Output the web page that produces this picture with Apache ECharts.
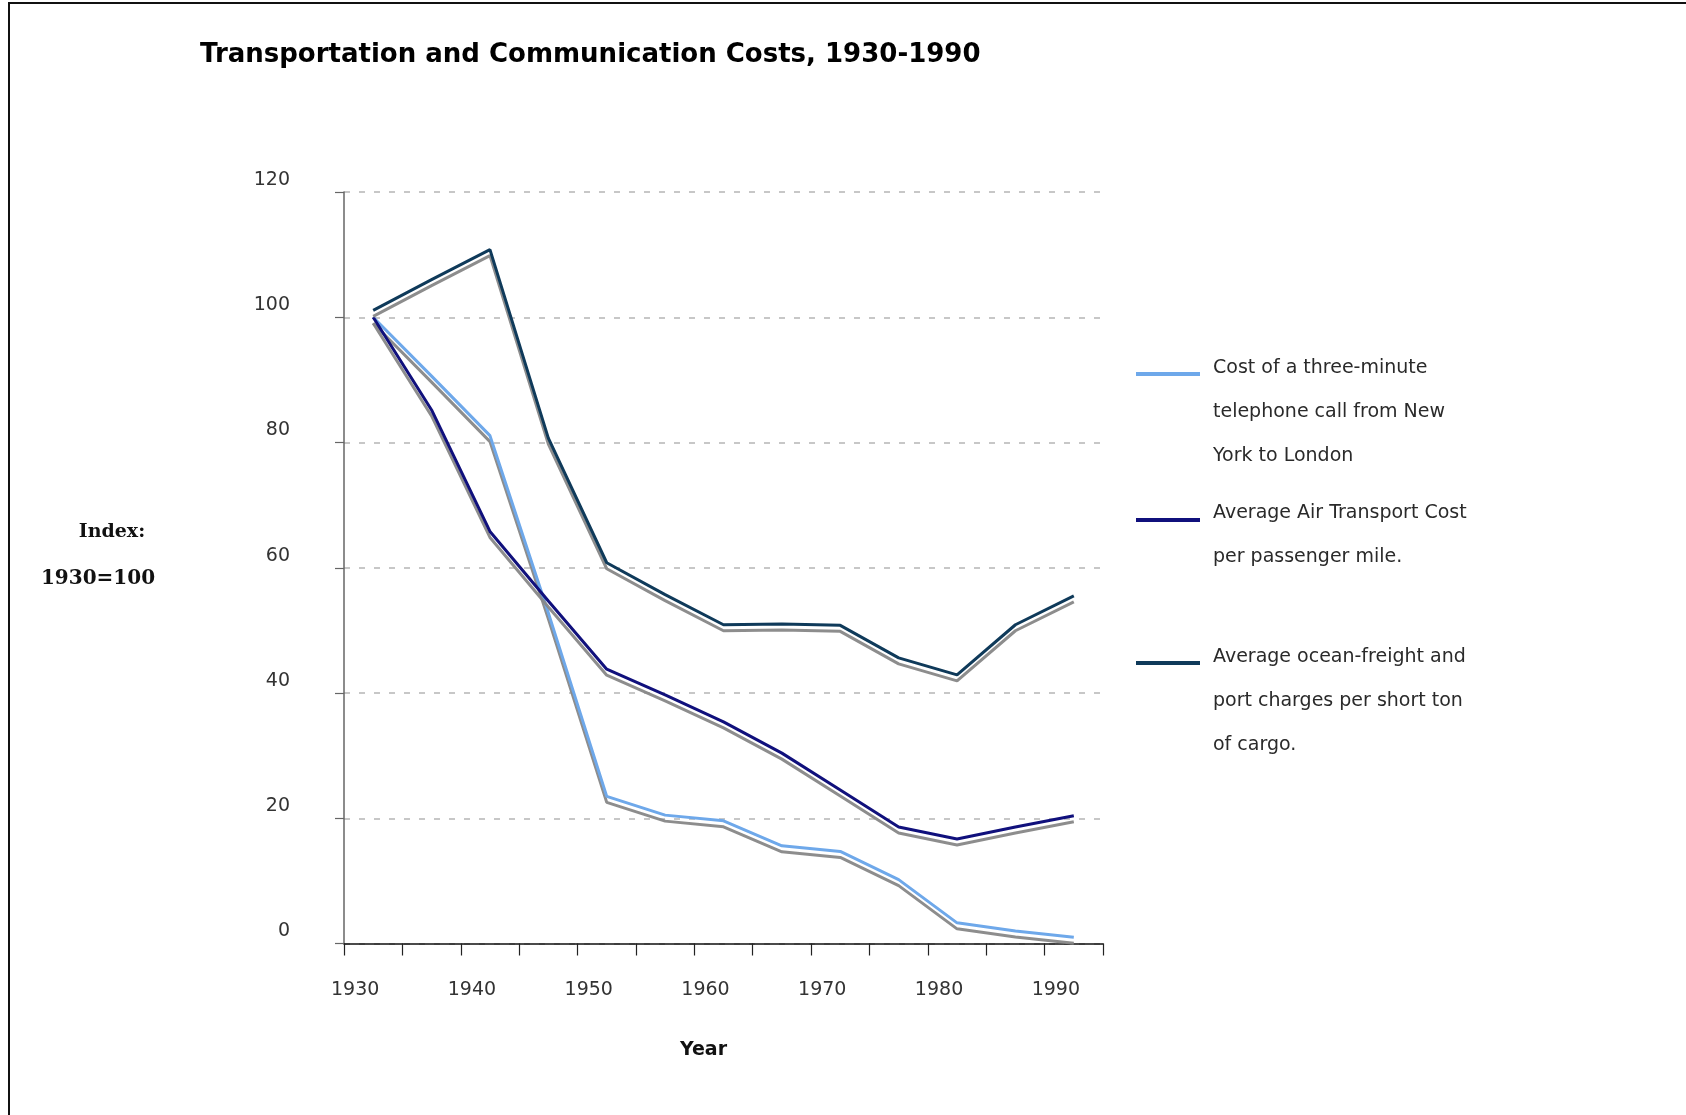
<!DOCTYPE html>
<html>
<head>
<meta charset="utf-8">
<script src="https://cdn.jsdelivr.net/npm/echarts@6/dist/echarts.min.js"></script>
<style>
  html, body { margin: 0; padding: 0; background: #fff; }
  #chart { width: 1686px; height: 1115px; position: relative; }
  #frame { position: absolute; left: 8px; top: 2px; width: 1700px; height: 1200px;
           border-left: 2px solid #111; border-top: 2px solid #111; pointer-events: none; }
</style>
</head>
<body>
<div id="chart"></div>
<div id="frame"></div>
<script>
const years = ['1930','1935','1940','1945','1950','1955','1960','1965','1970','1975','1980','1985','1990'];
const phoneCall = [100, 90.6, 81.1, 52.8, 23.5, 20.5, 19.6, 15.6, 14.7, 10.2, 3.3, 2.0, 1.0];
const airTransport = [100, 85.2, 65.8, 54.7, 43.8, 39.7, 35.4, 30.4, 24.5, 18.6, 16.7, 18.6, 20.4];
const oceanFreight = [101.1, 106, 110.8, 80.7, 60.8, 55.7, 50.9, 51.0, 50.8, 45.6, 42.9, 50.9, 55.5];
const yTicks = [0, 20, 40, 60, 80, 100, 120];

const seriesNames = [
  'Cost of a three-minute\ntelephone call from New\nYork to London',
  'Average Air Transport Cost\nper passenger mile.',
  'Average ocean-freight and\nport charges per short ton\nof cargo.'
];
const colors = ['#6ea8ea', '#10107c', '#0f3a5a'];

const chart = echarts.init(document.getElementById('chart'), null, { renderer: 'canvas' });

function lineSeries(name, data, color) {
  return {
    name: name, type: 'line', data: data, symbol: 'none', smooth: false,
    lineStyle: { color: color, width: 3, shadowColor: 'rgba(135,135,135,0.95)', shadowBlur: 0.5, shadowOffsetX: 0, shadowOffsetY: 6 },
    itemStyle: { color: color },
    emphasis: { disabled: true },
    z: 3
  };
}

const legendGraphics = [];
const legendLineY = [374, 520, 663];
const legendTextY = [346, 491, 635];
for (let i = 0; i < 3; i++) {
  legendGraphics.push({
    type: 'line', shape: { x1: 1136, y1: legendLineY[i], x2: 1200, y2: legendLineY[i] },
    style: { stroke: colors[i], lineWidth: 4 }
  });
  legendGraphics.push({
    type: 'text', x: 1213, y: legendTextY[i],
    style: { text: seriesNames[i], fill: '#2a2a2a', font: '19px "DejaVu Sans"', lineHeight: 44, verticalAlign: 'top', align: 'left' }
  });
}
legendGraphics.push({
  type: 'text', x: 112, y: 532,
  style: { text: 'Index:', fill: '#111', font: 'bold 19px "DejaVu Serif"', align: 'center', verticalAlign: 'middle' }
});
legendGraphics.push({
  type: 'text', x: 98, y: 579,
  style: { text: '1930=100', fill: '#111', font: 'bold 20px "DejaVu Serif"', align: 'center', verticalAlign: 'middle' }
});

chart.setOption({
  animation: false,
  backgroundColor: '#fff',
  title: {
    text: 'Transportation and Communication Costs, 1930-1990',
    left: 195, top: 37,
    textStyle: { fontFamily: 'DejaVu Sans', fontWeight: 'bold', fontSize: 26, color: '#000' }
  },
  grid: { left: 344, right: 583, top: 192, bottom: 171.5, containLabel: false },
  xAxis: {
    type: 'category', data: years, boundaryGap: true,
    name: 'Year', nameLocation: 'middle', nameGap: 97,
    nameTextStyle: { fontFamily: 'DejaVu Sans', fontWeight: 'bold', fontSize: 19, color: '#111', padding: [0, 40, 0, 0] },
    axisLine: { show: true, lineStyle: { color: '#111', width: 1.5 } },
    axisTick: { show: true, interval: 0, length: 12, lineStyle: { color: '#222', width: 1.2 } },
    axisLabel: { interval: 1, margin: 37, fontFamily: 'DejaVu Sans', fontSize: 19, color: '#333', padding: [0, 36, 0, 0] },
    splitLine: { show: false }
  },
  yAxis: {
    type: 'value', min: 0, max: 120, interval: 20,
    axisLine: { show: true, lineStyle: { color: '#666', width: 1.5 } },
    axisTick: { show: true, length: 9, lineStyle: { color: '#666', width: 1.2 } },
    axisLabel: {
      margin: 54, fontFamily: 'DejaVu Sans', fontSize: 19, color: '#333',
      verticalAlign: 'bottom', lineHeight: 24,
      formatter: function (v) { return yTicks.indexOf(v) >= 0 ? String(v) : ''; }
    },
    splitLine: { show: true, lineStyle: { color: '#b5b5b5', type: [6, 9], width: 1.5 } }
  },
  series: [
    lineSeries(seriesNames[0], phoneCall, colors[0]),
    lineSeries(seriesNames[1], airTransport, colors[1]),
    lineSeries(seriesNames[2], oceanFreight, colors[2])
  ],
  graphic: legendGraphics
});
</script>
</body>
</html>
